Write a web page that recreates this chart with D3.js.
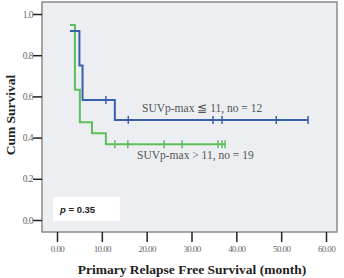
<!DOCTYPE html>
<html>
<head>
<meta charset="utf-8">
<script src="https://cdn.jsdelivr.net/npm/d3@7"></script>
<style>
  body { margin: 0; background: #fff; }
  svg text { font-family: "Liberation Serif", "DejaVu Serif", serif; }
</style>
</head>
<body>
<div id="chart"></div>
<script>
// Kaplan-Meier step points: [time, survival]
const lowSteps = [[2.9, 0.917], [5.0, 0.75], [5.7, 0.583], [12.9, 0.486], [56.0, 0.486]];
const lowCensored = [10.9, 15.9, 34.8, 36.8, 48.9, 56.0];
const highSteps = [[2.9, 0.947], [4.0, 0.632], [5.1, 0.474], [7.8, 0.421], [10.9, 0.368], [37.5, 0.368]];
const highCensored = [12.9, 15.8, 23.9, 27.9, 35.9, 36.8, 37.5];
const xTicks = [0, 10, 20, 30, 40, 50, 60];
const yTicks = [0, 0.2, 0.4, 0.6, 0.8, 1.0];

const W = 344, H = 278;
const frame = { left: 42, top: 2, right: 337, bottom: 232 };

const svg = d3.select('#chart').append('svg')
    .attr('width', W).attr('height', H);

const x = d3.scaleLinear().domain([0, 60]).range([57, 326]);
const y = d3.scaleLinear().domain([0, 1]).range([220, 14]);

svg.append('rect')
    .attr('x', frame.left).attr('y', frame.top)
    .attr('width', frame.right - frame.left).attr('height', frame.bottom - frame.top)
    .attr('fill', '#eceef2').attr('stroke', '#8a8a8a').attr('stroke-width', 1.5);

// y axis
const yAxis = svg.append('g')
    .attr('transform', `translate(${frame.left},0)`)
    .call(d3.axisLeft(y).tickValues(yTicks).tickFormat(d3.format('.1f')).tickSize(9).tickSizeOuter(0));
yAxis.select('.domain').remove();
yAxis.selectAll('line').attr('stroke', '#222').attr('stroke-width', 1.5);
yAxis.selectAll('text').attr('fill', '#666').style('font-size', '9.5px').attr('x', -9).attr('letter-spacing', '-0.5');

// x axis
const xAxis = svg.append('g')
    .attr('transform', `translate(0,${frame.bottom})`)
    .call(d3.axisBottom(x).tickValues(xTicks).tickFormat(d3.format('.2f')).tickSize(10).tickSizeOuter(0));
xAxis.select('.domain').remove();
xAxis.selectAll('line').attr('stroke', '#222').attr('stroke-width', 1.5);
xAxis.selectAll('text').attr('fill', '#666').style('font-size', '9px').attr('y', 14).attr('letter-spacing', '-0.6');

const stepLine = d3.line().x(d => x(d[0])).y(d => y(d[1])).curve(d3.curveStepAfter);

function survAt(steps, t) {
    let s = steps[0][1];
    steps.forEach(p => { if (p[0] <= t) s = p[1]; });
    return s;
}

function drawCurve(steps, censored, color) {
    svg.append('path')
        .datum(steps)
        .attr('d', stepLine)
        .attr('fill', 'none')
        .attr('stroke', color)
        .attr('stroke-width', 2);
    svg.selectAll(null)
        .data(censored)
        .enter()
        .append('line')
        .attr('x1', d => x(d)).attr('x2', d => x(d))
        .attr('y1', d => y(survAt(steps, d)) - 4)
        .attr('y2', d => y(survAt(steps, d)) + 4)
        .attr('stroke', color)
        .attr('stroke-width', 1.5);
}

drawCurve(highSteps, highCensored, '#5cbf5c');
drawCurve(lowSteps, lowCensored, '#3a5fae');

svg.append('text')
    .attr('x', 142).attr('y', 112)
    .attr('fill', '#555').style('font-size', '11.5px')
    .text('SUVp-max ≦ 11,  no = 12');

svg.append('text')
    .attr('x', 137).attr('y', 159)
    .attr('fill', '#555').style('font-size', '11.5px')
    .text('SUVp-max > 11,  no = 19');

// p value box
svg.append('rect')
    .attr('x', 53).attr('y', 197).attr('width', 67).attr('height', 24)
    .attr('fill', '#fff');
const pText = svg.append('text')
    .attr('x', 60).attr('y', 213)
    .attr('fill', '#222')
    .style('font-family', '"Liberation Sans", Arial, sans-serif')
    .style('font-size', '9.5px').style('font-weight', 'bold');
pText.append('tspan').style('font-style', 'italic').text('p');
pText.append('tspan').text(' = 0.35');

// axis titles
svg.append('text')
    .attr('transform', 'translate(15,115) rotate(-90)')
    .attr('text-anchor', 'middle')
    .attr('fill', '#222').style('font-size', '13.5px').style('font-weight', 'bold')
    .text('Cum Survival');

svg.append('text')
    .attr('x', 192).attr('y', 274)
    .attr('text-anchor', 'middle')
    .attr('fill', '#222').style('font-size', '13.5px').style('font-weight', 'bold')
    .text('Primary Relapse Free Survival (month)');
</script>
</body>
</html>
